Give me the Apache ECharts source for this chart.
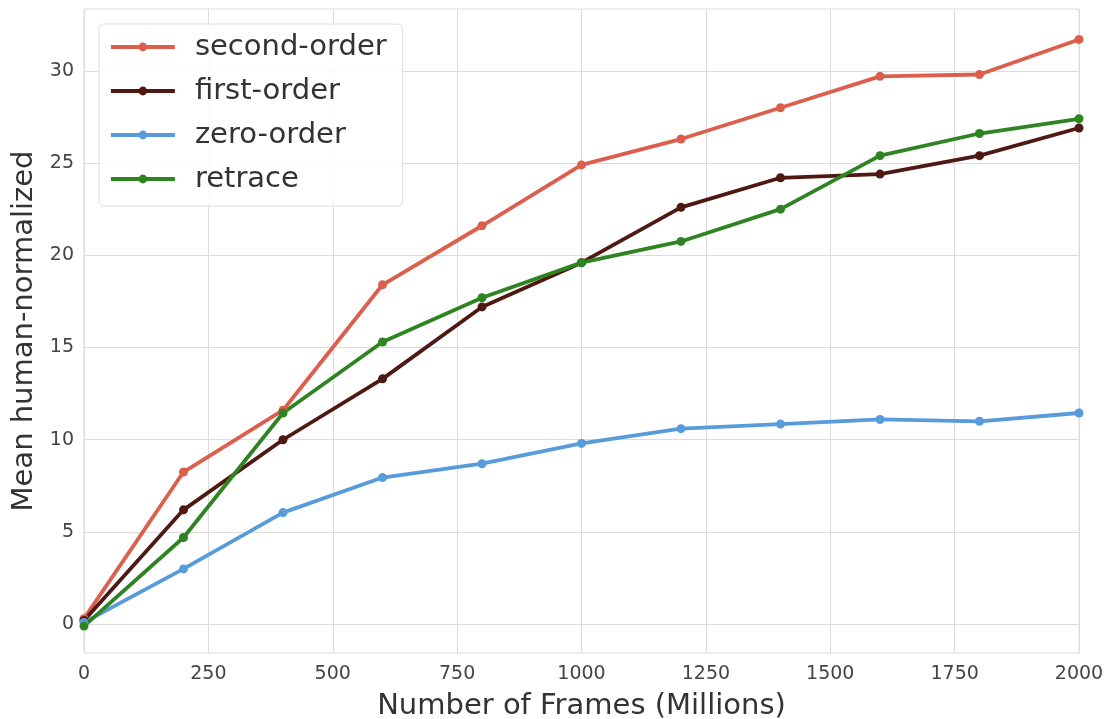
<!DOCTYPE html>
<html>
<head>
<meta charset="utf-8">
<script src="https://cdn.jsdelivr.net/npm/echarts@6/dist/echarts.min.js"></script>
<style>html,body{margin:0;padding:0;background:#fff}#c{width:1107px;height:719px}</style>
</head>
<body>
<div id="c"></div>
<script>
const frames = [0, 200, 400, 600, 800, 1000, 1200, 1400, 1600, 1800, 2000];
const secondOrder = [0.3, 8.25, 11.6, 18.4, 21.6, 24.9, 26.3, 28.0, 29.7, 29.8, 31.7];
const firstOrder = [0.2, 6.2, 10.0, 13.3, 17.2, 19.6, 22.6, 24.2, 24.4, 25.4, 26.9];
const zeroOrder = [0.1, 3.0, 6.05, 7.95, 8.7, 9.8, 10.6, 10.85, 11.1, 11.0, 11.45];
const retrace = [-0.1, 4.7, 11.45, 15.3, 17.7, 19.6, 20.75, 22.5, 25.4, 26.6, 27.4];
const yTicks = [0, 5, 10, 15, 20, 25, 30];

const font = 'DejaVu Sans';
function pairs(ys){ return frames.map((x,i)=>[x, ys[i]]); }
function mk(name, ys, color){
  return {name, type:'line', data:pairs(ys), symbol:'circle', symbolSize:9,
    lineStyle:{width:3.8, color}, itemStyle:{color}, z:3};
}
const chart = echarts.init(document.getElementById('c'), null, {renderer:'canvas'});
chart.setOption({
  animation:false,
  backgroundColor:'#fff',
  grid:{left:84, right:28, top:9, bottom:66, show:true, borderColor:'#dcdcdc', borderWidth:1,
    outerBoundsMode:'none', containLabel:false},
  legend:{
    left:99, top:24, orient:'vertical',
    backgroundColor:'rgba(255,255,255,0.85)', borderColor:'#dcdcdc', borderWidth:1, borderRadius:5,
    padding:[6,16,10,10], itemGap:10, itemWidth:64, itemHeight:11,
    lineStyle:{width:3.8},
    textStyle:{fontFamily:font, fontSize:29, color:'#333', lineHeight:34, padding:[0,0,0,15]},
    data:['second-order','first-order','zero-order','retrace']
  },
  xAxis:{
    type:'value', min:0, max:2000, interval:250,
    name:'Number of Frames (Millions)', nameLocation:'middle', nameGap:39,
    nameTextStyle:{fontFamily:font, fontSize:29, color:'#333'},
    axisLine:{show:false}, axisTick:{show:false},
    axisLabel:{fontFamily:font, fontSize:19, color:'#444', margin:12, formatter:v=>String(v)},
    splitLine:{show:true, lineStyle:{color:'#dcdcdc', width:1}}
  },
  yAxis:{
    type:'value', min:-1.56, max:33.35,
    name:'Mean human-normalized', nameLocation:'middle', nameGap:30,
    nameTextStyle:{fontFamily:font, fontSize:29, color:'#333'},
    axisLine:{show:false},
    axisTick:{show:false, customValues:yTicks},
    axisLabel:{fontFamily:font, fontSize:19, color:'#444', margin:10, customValues:yTicks},
    splitLine:{show:true, lineStyle:{color:'#dcdcdc', width:1}}
  },
  series:[
    mk('second-order', secondOrder, '#dc5f4d'),
    mk('first-order', firstOrder, '#4e1912'),
    mk('zero-order', zeroOrder, '#579bdb'),
    mk('retrace', retrace, '#2f8422')
  ]
});
</script>
</body>
</html>
